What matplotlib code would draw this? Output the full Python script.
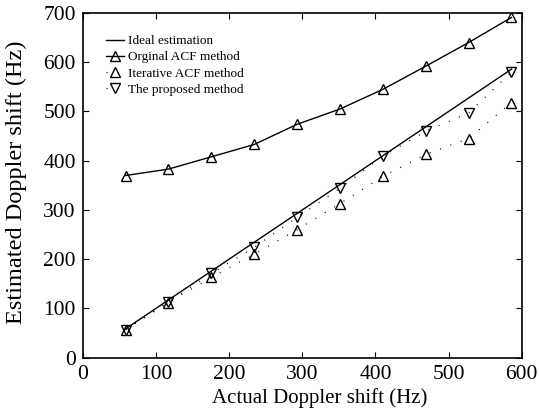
import matplotlib.pyplot as plt
import numpy as np

plt.rcParams['font.family'] = ['Liberation Serif', 'DejaVu Serif']

actual = [58.6, 117.2, 175.8, 234.4, 293.0, 351.6, 410.2, 468.8, 527.3, 585.9]
ideal = actual
orig_acf = [370, 383, 408, 433, 474, 505, 545, 592, 640, 691]
iter_acf = [57, 112, 163, 210, 260, 313, 368, 413, 445, 518]
proposed = [57, 113, 171, 224, 285, 344, 409, 460, 497, 580]

fig = plt.figure(figsize=(5.39, 4.12), dpi=100)
ax = fig.add_axes([0.1534, 0.1318, 0.8146, 0.8366])

ms = 7
ax.plot(ideal, ideal, color='black', linewidth=1, label='Ideal estimation')
ax.plot(actual, orig_acf, color='black', linewidth=1, marker='^', markersize=ms,
        markerfacecolor='none', markeredgewidth=1, label='Orginal ACF method')
ax.plot(actual, iter_acf, color='black', linewidth=0.9, dashes=(0.8, 8), marker='^',
        markersize=ms, markerfacecolor='none', markeredgewidth=1, label='Iterative ACF method')
ax.plot(actual, proposed, color='black', linewidth=0.9, dashes=(0.8, 8), marker='v',
        markersize=ms, markerfacecolor='none', markeredgewidth=1, label='The proposed method')

ax.set_xlim(0, 600)
ax.set_ylim(0, 700)
ax.set_xticks(range(0, 601, 100))
ax.set_yticks(range(0, 701, 100))
ax.tick_params(direction='in', top=True, right=True, length=4, width=0.8, labelsize=15.5, pad=5)
for s in ax.spines.values():
    s.set_linewidth(1.2)

ax.set_xlabel("Actual Doppler shift (Hz)", fontsize=15)
ax.set_ylabel("Estimated Doppler shift (Hz)", fontsize=17.5)
ax.xaxis.set_label_coords(0.54, -0.088)
ax.yaxis.set_label_coords(-0.127, 0.51)

ax.legend(loc='upper left', frameon=False, fontsize=9.5, handlelength=1.3,
          handletextpad=0.3, labelspacing=0.3, borderaxespad=0.4, bbox_to_anchor=(0.03, 0.967))

plt.savefig('out.png', dpi=100)
